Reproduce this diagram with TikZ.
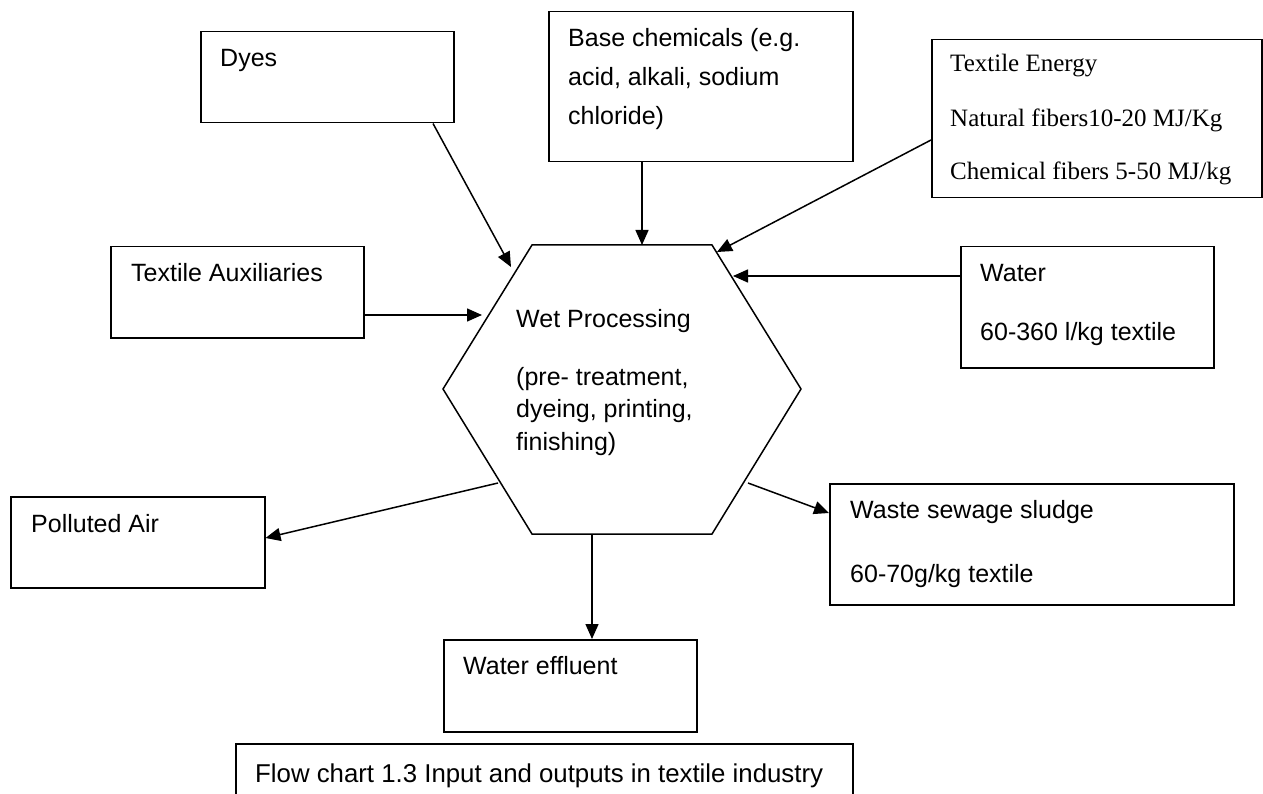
\documentclass[tikz,border=0pt]{standalone}
\usepackage{fontspec}
\setmainfont{Liberation Sans}
\newfontfamily\serifbox{Liberation Serif}
\usetikzlibrary{arrows.meta,calc}
\begin{document}
\begin{tikzpicture}[x=1pt,y=-1pt,
  box/.style={draw,line width=1.5pt,rectangle,inner sep=0pt,anchor=north west},
  txt/.style={anchor=base west,inner sep=0pt,font=\fontsize{25}{30}\selectfont},
  stxt/.style={anchor=base west,inner sep=0pt,font=\serifbox\fontsize{25}{30}\selectfont},
  arr/.style={line width=1.5pt,-{Triangle[length=15pt,width=13pt]}},
  edge/.style={line width=1.5pt,line join=miter}]
\useasboundingbox (0,0) rectangle (1263,794);
\clip (0,0) rectangle (1263,794);

% boxes
\node[box,minimum width=253pt,minimum height=91pt] (dyes) at (200,31) {};
\node[box,minimum width=304pt,minimum height=150pt] (base) at (548,11) {};
\node[box,minimum width=330pt,minimum height=158pt] (energy) at (931,39) {};
\node[box,minimum width=253pt,minimum height=121pt] (water) at (960,246) {};
\node[box,minimum width=253pt,minimum height=91pt] (aux) at (110,246) {};
\node[box,minimum width=254pt,minimum height=91pt] (air) at (10,496) {};
\node[box,minimum width=253pt,minimum height=92pt] (eff) at (443,639) {};
\node[box,minimum width=404pt,minimum height=121pt] (waste) at (829,483) {};
\node[box,minimum width=617pt,minimum height=70pt] (cap) at (235,743) {};

% hexagon
\coordinate (h1) at (532,245);
\coordinate (h2) at (712,245);
\coordinate (h3) at (801,389);
\coordinate (h4) at (712,534);
\coordinate (h5) at (532,534);
\coordinate (h6) at (443,389);
\draw[edge] (h1)--(h2)--(h3)--(h4)--(h5)--(h6)--cycle;

% points on the hexagon
\coordinate (inDyes) at (511,267);
\coordinate (inBase) at (642,245);
\coordinate (inEnergy) at (717,252);
\coordinate (inWater) at (733,276);
\coordinate (inAux) at (482,315);
\coordinate (outAir) at (498,483);
\coordinate (outEff) at (592,534);
\coordinate (outWaste) at (748,483);

% texts
\node[txt] (tdyes) at (220,67) {Dyes};
\node[txt] (tbase1) at (568,47) {Base chemicals (e.g.};
\node[txt] (tbase2) at (568,86) {acid, alkali, sodium};
\node[txt] (tbase3) at (568,125) {chloride)};
\node[stxt] (tenergy1) at (950,72) {Textile Energy};
\node[stxt] (tenergy2) at (950,127) {Natural fibers10-20 MJ/Kg};
\node[stxt] (tenergy3) at (950,180) {Chemical fibers 5-50 MJ/kg};
\node[txt] (twater1) at (980,282) {Water};
\node[txt] (twater2) at (980,340) {60-360 l/kg textile};
\node[txt] (taux) at (131,282) {Textile Auxiliaries};
\node[txt] (twet1) at (516,327) {Wet Processing};
\node[txt] (twet2) at (516,385) {(pre- treatment,};
\node[txt] (twet3) at (516,417) {dyeing, printing,};
\node[txt] (twet4) at (516,450) {finishing)};
\node[txt] (tair) at (31,532) {Polluted Air};
\node[txt] (teff) at (463,674) {Water effluent};
\node[txt] (twaste1) at (850,518) {Waste sewage sludge};
\node[txt] (twaste2) at (850,582) {60-70g/kg textile};
\node[txt,font=\fontsize{25.8}{30}\selectfont] (tcap) at (255,782) {Flow chart 1.3 Input and outputs in textile industry};

% arrows
\draw[arr] ($(dyes.south west)+(233,0)$) -- (inDyes);
\draw[arr] ($(base.south west)+(94,0)$) -- (inBase);
\draw[arr] ($(energy.north west)+(0,101)$) -- (inEnergy);
\draw[arr] ($(water.north west)+(0,30)$) -- (inWater);
\draw[arr] ($(aux.north east)+(0,69)$) -- (inAux);
\draw[arr] (outAir) -- ($(air.north east)+(0,42)$);
\draw[arr] (outEff) -- ($(eff.north west)+(149,0)$);
\draw[arr] (outWaste) -- ($(waste.north west)+(0,30)$);
\end{tikzpicture}
\end{document}
